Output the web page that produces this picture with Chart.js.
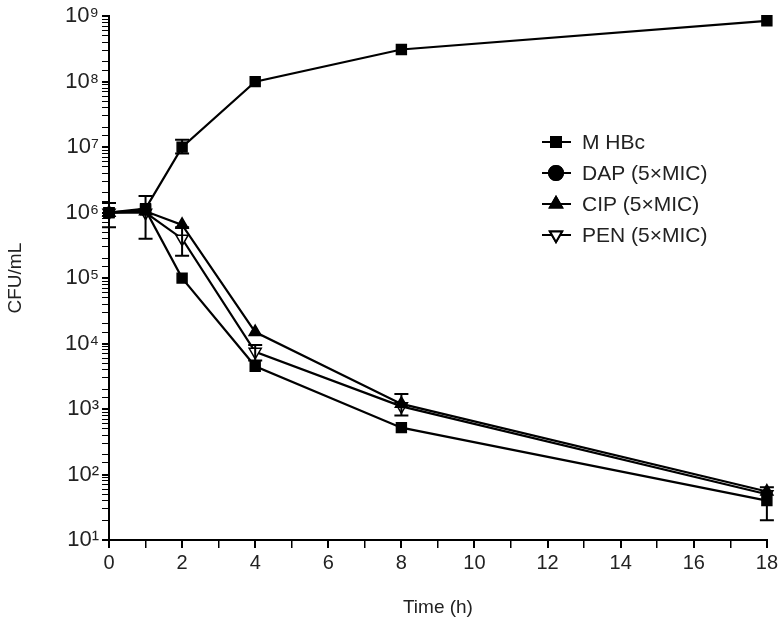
<!DOCTYPE html>
<html>
<head>
<meta charset="utf-8">
<script src="https://cdn.jsdelivr.net/npm/chart.js@4"></script>
<style>
  body { margin: 0; background: #fff; }
  #wrap { width: 781px; height: 623px; }
</style>
</head>
<body>
<div id="wrap"><canvas id="kill"></canvas></div>
<script>
// time points (h)
const times = [0, 1, 2, 4, 8, 18];
const seriesNames = ['M HBc', 'DAP (5\u00d7MIC)', 'CIP (5\u00d7MIC)', 'PEN (5\u00d7MIC)'];
// CFU/mL
const mhbc = [1e6, 1.15e6, 1e7, 1e8, 3.1e8, 8.5e8];
const dap = [1e6, 1.1e6, 1e5, 4.5e3, 5.2e2, 40];
const cip = [1e6, 1.05e6, 6.5e5, 1.5e4, 1.2e3, 55];
const pen = [1e6, 1e6, 4e5, 7.5e3, 1.1e3, 50];
// error bars (low / high), null = none drawn
const mhbcLo = [null, null, 8e6, null, null, null];
const mhbcHi = [null, null, 1.3e7, null, null, null];
const penLo = [6e5, 4e5, 2.2e5, 5.5e3, 8e2, 20];
const penHi = [1.4e6, 1.8e6, 6e5, 9.5e3, 1.7e3, 64];
const yTicks = [1e1, 1e2, 1e3, 1e4, 1e5, 1e6, 1e7, 1e8, 1e9];
const sup = ['\u2070','\u00b9','\u00b2','\u00b3','\u2074','\u2075','\u2076','\u2077','\u2078','\u2079'];

const pts = arr => times.map((t, i) => ({x: t, y: arr[i]}));
const FONT = '"Liberation Sans", Arial, sans-serif';

function ds(label, arr, style, fill, lo, hi, rot) {
  return {
    label: label,
    data: pts(arr),
    borderColor: '#000',
    borderWidth: 2.2,
    pointStyle: style,
    pointRotation: rot || 0,
    pointRadius: 7,
    pointBackgroundColor: fill,
    pointBorderColor: '#000',
    pointBorderWidth: 1.5,
    errLo: lo, errHi: hi,
    clip: false,
    tension: 0
  };
}

const errorBars = {
  id: 'errorBars',
  afterDatasetsDraw(chart) {
    const ctx = chart.ctx, xs = chart.scales.x, ys = chart.scales.y;
    ctx.save();
    ctx.strokeStyle = '#000';
    ctx.lineWidth = 2;
    chart.data.datasets.forEach(d => {
      if (!d.errLo) return;
      times.forEach((t, i) => {
        if (d.errLo[i] == null) return;
        const x = xs.getPixelForValue(t);
        const y1 = ys.getPixelForValue(d.errLo[i]);
        const y2 = ys.getPixelForValue(d.errHi[i]);
        ctx.beginPath();
        ctx.moveTo(x, y1); ctx.lineTo(x, y2);
        ctx.moveTo(x - 7, y1); ctx.lineTo(x + 7, y1);
        ctx.moveTo(x - 7, y2); ctx.lineTo(x + 7, y2);
        ctx.stroke();
      });
    });
    ctx.restore();
  }
};

const legendBox = {
  id: 'legendBox',
  afterDraw(chart) {
    const ctx = chart.ctx;
    const styles = ['rect', 'circle', 'triangle', 'triangle'];
    ctx.save();
    ctx.font = '21px ' + FONT;
    ctx.textBaseline = 'middle';
    chart.data.datasets.forEach((d, i) => {
      const y = 142 + i * 31;
      ctx.strokeStyle = '#000';
      ctx.lineWidth = 2;
      ctx.beginPath(); ctx.moveTo(542, y); ctx.lineTo(571, y); ctx.stroke();
      Chart.helpers.drawPoint(ctx, {
        pointStyle: styles[i], rotation: d.pointRotation, radius: 7, borderWidth: 1.5
      }, 556, y);
      ctx.fillStyle = d.pointBackgroundColor;
      ctx.strokeStyle = '#000';
      ctx.fill(); ctx.stroke();
      ctx.fillStyle = '#222';
      ctx.fillText(d.label, 582, y + 1);
    });
    ctx.restore();
  }
};

new Chart(document.getElementById('kill'), {
  type: 'line',
  data: {
    datasets: [
      ds(seriesNames[0], mhbc, 'rect', '#000', mhbcLo, mhbcHi),
      ds(seriesNames[1], dap, 'rect', '#000'),
      ds(seriesNames[2], cip, 'triangle', '#000'),
      ds(seriesNames[3], pen, 'triangle', '#fff', penLo, penHi, 180)
    ]
  },
  options: {
    responsive: true,
    maintainAspectRatio: false,
    animation: false,
    layout: { padding: { top: 15, right: 14, left: 0, bottom: 0 } },
    plugins: { legend: { display: false }, tooltip: { enabled: false } },
    scales: {
      x: {
        type: 'linear', min: 0, max: 18,
        border: { color: '#000', width: 2 },
        grid: { drawOnChartArea: false, color: '#000', tickLength: 8,
                lineWidth: c => (c.tick && c.tick.value % 2 === 0 ? 2 : 1.5) },
        ticks: { stepSize: 1, color: '#222', font: { size: 20, family: FONT }, padding: 3,
                 autoSkip: false, maxRotation: 0,
                 callback: v => (v % 2 === 0 ? String(v) : '') },
        title: { display: true, text: 'Time (h)', color: '#222', font: { size: 19, family: FONT }, padding: { top: 4 } },
        afterFit: s => { s.height = 83; }
      },
      y: {
        type: 'logarithmic', min: 10, max: 1e9,
        border: { color: '#000', width: 2 },
        grid: { drawOnChartArea: false, color: '#000', tickLength: 7,
                lineWidth: c => (c.tick && yTicks.includes(c.tick.value) ? 2 : 1) },
        ticks: { color: '#222', font: { size: 22, family: FONT }, padding: 3, autoSkip: false,
                 callback: v => {
                   const e = Math.round(Math.log10(v));
                   return yTicks.includes(v) ? '10' + sup[e] : '';
                 } },
        title: { display: true, text: 'CFU/mL', color: '#222', font: { size: 19, family: FONT }, padding: { bottom: 4 } },
        afterFit: s => { s.width = 109; }
      }
    }
  },
  plugins: [errorBars, legendBox]
});
</script>
</body>
</html>
